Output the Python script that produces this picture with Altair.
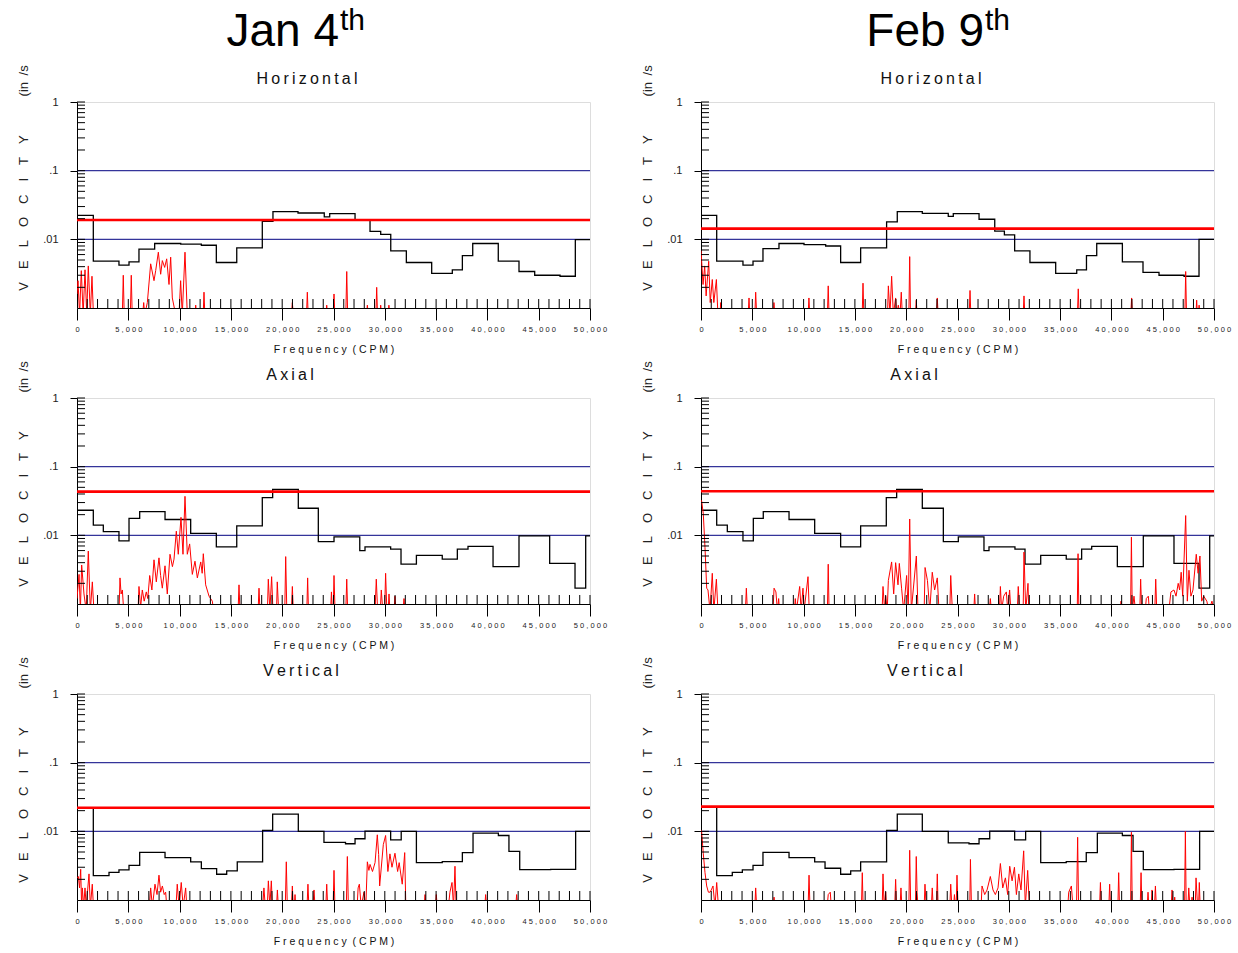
import altair as alt
import pandas as pd

FL = 0.0008  # spectrum floor (below the axis, clipped)

# ---------------- alarm-band envelopes (band start CPM, level in/s) ----------------
JAN_H_STEP_F = [0, 1590, 4090, 5070, 6040, 7570, 10110, 12120, 13580, 15570, 18060, 19100, 21540, 24100, 24630,
                27100, 28560, 29600, 30580, 32100, 34570, 36580, 37560, 38570, 41060, 43080, 44610, 47080, 48570]
JAN_H_STEP_V = [0.0224, 0.0048, 0.0042, 0.0047, 0.0072, 0.0087, 0.0085, 0.0082, 0.0046, 0.0075, 0.0183, 0.0253,
                0.0242, 0.0213, 0.0237, 0.0193, 0.0131, 0.0118, 0.0068, 0.0046, 0.0032, 0.0036, 0.0058, 0.0087,
                0.0048, 0.0034, 0.0030, 0.0029, 0.0099]
JAN_A_STEP_F = [0, 1590, 2565, 4090, 5070, 6110, 8580, 11080, 13580, 15570, 18060, 19070, 21570, 23520, 25050,
                27560, 28070, 30570, 31580, 33080, 35600, 37070, 38110, 40550, 43080, 46070, 48540, 49580]
JAN_A_STEP_V = [0.0232, 0.0141, 0.0113, 0.0083, 0.0177, 0.0221, 0.0170, 0.0107, 0.0068, 0.0137, 0.0354, 0.0468,
                0.0248, 0.0081, 0.0095, 0.0060, 0.0068, 0.0063, 0.0038, 0.0051, 0.0045, 0.0063, 0.0069, 0.0035,
                0.0098, 0.0039, 0.0017, 0.0098]
JAN_V_STEP_F = [0, 1590, 3120, 4090, 5070, 6110, 8580, 11080, 12120, 13610, 14590, 15620, 18090, 19070, 21570,
                24070, 26170, 27100, 28070, 30570, 31600, 33080, 35600, 37560, 38600, 41070, 42100, 43150, 46170, 48600]
JAN_V_STEP_V = [0.0216, 0.00226, 0.00253, 0.00275, 0.0032, 0.00495, 0.00414, 0.00359, 0.00287, 0.00237, 0.00265,
                0.00359, 0.0103, 0.0178, 0.0100, 0.0069, 0.0066, 0.0078, 0.0101, 0.0075, 0.0100, 0.0035, 0.00363,
                0.0049, 0.0094, 0.0087, 0.0051, 0.00276, 0.0028, 0.0100]
FEB_H_STEP_F = [0, 1530, 4090, 5070, 6040, 7600, 10040, 12150, 13610, 15560, 18090, 19130, 21570, 24100, 24590,
                27100, 28630, 29570, 30570, 32060, 34570, 36620, 37570, 38570, 41070, 43080, 44640, 47080, 48540]
FEB_H_STEP_V = [0.0224, 0.0048, 0.0042, 0.0048, 0.0073, 0.0087, 0.0084, 0.0080, 0.0046, 0.0075, 0.0180, 0.0253,
                0.0239, 0.0216, 0.0237, 0.0196, 0.0132, 0.0116, 0.0068, 0.0046, 0.0032, 0.0036, 0.0058, 0.0087,
                0.0047, 0.0033, 0.0030, 0.0029, 0.0100]
FEB_A_STEP_F = [0, 1530, 2565, 4090, 5100, 6070, 8580, 11080, 13610, 15560, 18060, 19070, 21570, 23620, 25080,
                27580, 28070, 30600, 31580, 33110, 35600, 37100, 38080, 40580, 43110, 46100, 48540, 49580]
FEB_A_STEP_V = [0.0232, 0.0141, 0.0113, 0.0083, 0.0177, 0.0221, 0.0170, 0.0107, 0.0068, 0.0137, 0.0354, 0.0468,
                0.0248, 0.0081, 0.0095, 0.0060, 0.0068, 0.0063, 0.0038, 0.0051, 0.0045, 0.0063, 0.0069, 0.0035,
                0.0098, 0.0039, 0.0017, 0.0098]
FEB_V_STEP_F = [0, 1530, 3050, 4030, 5070, 6040, 8580, 11080, 12090, 13610, 14590, 15560, 18090, 19130, 21570,
                24100, 26120, 27100, 28140, 30570, 31640, 33110, 35600, 37550, 38630, 41070, 42110, 43110, 46100, 48600]
FEB_V_STEP_V = [0.0223, 0.00226, 0.00253, 0.00275, 0.0032, 0.00495, 0.00414, 0.00359, 0.0029, 0.00237, 0.00265,
                0.00359, 0.0103, 0.0178, 0.0100, 0.0068, 0.0066, 0.0078, 0.0101, 0.0075, 0.0100, 0.0035, 0.00363,
                0.0049, 0.0094, 0.0087, 0.0051, 0.00276, 0.0028, 0.0100]

# ---------------- overall levels ----------------
JAN_H_OVERALL, JAN_A_OVERALL, JAN_V_OVERALL = 0.0191, 0.0433, 0.0221
FEB_H_OVERALL, FEB_A_OVERALL, FEB_V_OVERALL = 0.0143, 0.0438, 0.0229

# ---------------- spectra (CPM, in/s) ----------------
JAN_H_SPEC = [
    (0, 0.0016), (100, 0.0025), (250, FL), (420, 0.0035), (600, FL), (780, 0.0036), (950, FL), (1100, 0.0041),
    (1300, FL), (1460, 0.0029), (1600, FL), (4420, FL), (4510, 0.0030), (4600, FL), (5200, FL), (5290, 0.0030),
    (5380, FL), (6400, FL), (6500, 0.0012), (6600, FL), (6856, 0.0012), (7180, 0.0044), (7505, 0.0025),
    (7668, 0.0035), (7928, 0.0065), (8155, 0.0031), (8318, 0.0049), (8545, 0.0039), (8740, 0.0052),
    (8967, 0.0022), (9130, 0.0055), (9290, 0.0014), (9616, FL), (9941, FL), (10100, 0.0025), (10260, FL),
    (10526, 0.0065), (10750, FL), (11500, FL), (11570, 0.0011), (11650, FL), (12300, FL), (12378, 0.0017),
    (12460, FL), (20900, FL), (20990, 0.0012), (21080, FL), (22370, FL), (22450, 0.0017), (22530, FL),
    (24260, FL), (24340, 0.0011), (24420, FL), (24970, FL), (25050, 0.0016), (25130, FL), (26200, FL),
    (26290, 0.0034), (26380, FL), (28220, FL), (28300, 0.0011), (28380, FL), (29130, FL), (29210, 0.0020),
    (29290, FL), (29520, FL), (29600, 0.0011), (29680, FL), (30320, FL), (30400, 0.0011), (30480, FL)]
JAN_A_SPEC = [
    (0, 0.0012), (200, 0.0027), (330, FL), (455, 0.0037), (680, 0.0014), (900, FL), (1100, 0.0059), (1300, FL),
    (1495, 0.0021), (1650, FL), (4100, FL), (4190, 0.0024), (4300, 0.0014), (4420, 0.0016), (4550, FL),
    (5950, FL), (6040, 0.0018), (6200, 0.0009), (6365, 0.0016), (6550, 0.0011), (6755, 0.0015), (6900, 0.0012),
    (7085, 0.0026), (7300, 0.0016), (7505, 0.0044), (7730, 0.0021), (7990, 0.0047), (8150, 0.0026),
    (8315, 0.0017), (8577, 0.0036), (8800, 0.0014), (9065, 0.0053), (9300, 0.0035), (9455, 0.0045),
    (9680, 0.0115), (9870, 0.0053), (10136, 0.0183), (10330, 0.0053), (10526, 0.0370), (10750, 0.0053),
    (10980, 0.0075), (11240, 0.0027), (11500, 0.0042), (11730, 0.0024), (12060, 0.0041), (12200, 0.0028),
    (12310, 0.0054), (12540, 0.0019), (12870, 0.0013), (13190, 0.0011), (13300, FL), (15700, FL),
    (15790, 0.0019), (15880, FL), (17650, FL), (17740, 0.0017), (17830, FL), (18560, FL), (18645, 0.0023),
    (18800, FL), (18970, 0.0025), (19100, FL), (19450, FL), (19520, 0.0021), (19650, FL), (20250, FL),
    (20340, 0.0049), (20450, FL), (20900, FL), (20990, 0.0018), (21080, FL), (22400, FL), (22480, 0.0024),
    (22560, FL), (24720, FL), (24800, 0.0015), (24880, FL), (24970, FL), (25050, 0.0026), (25150, FL),
    (26200, FL), (26290, 0.0023), (26380, FL), (29050, FL), (29170, 0.0023), (29300, FL), (29560, FL),
    (29660, 0.0016), (29800, FL), (29980, FL), (30080, 0.0028), (30200, FL), (30330, FL), (30410, 0.0014),
    (30500, FL), (30900, FL), (30990, 0.0013), (31080, FL), (31780, FL), (31870, 0.0012), (31960, FL)]
JAN_V_SPEC = [
    (0, 0.0021), (130, 0.0022), (250, 0.0015), (360, 0.0028), (450, FL), (520, 0.0015), (650, FL),
    (780, 0.0015), (900, FL), (1170, 0.0024), (1300, FL), (1490, 0.0017), (1600, FL), (7050, FL),
    (7180, 0.0015), (7350, FL), (7600, 0.0017), (7800, 0.0012), (7990, 0.0023), (8150, 0.0013),
    (8320, 0.0016), (8500, 0.0012), (8640, 0.0013), (8750, FL), (9650, FL), (9770, 0.0017), (9950, FL),
    (10160, 0.0018), (10350, FL), (10590, 0.0015), (10700, FL), (18100, FL), (18220, 0.0015), (18350, FL),
    (18550, FL), (18650, 0.0019), (18800, FL), (18940, 0.0019), (19050, FL), (19450, FL), (19530, 0.0014),
    (19620, FL), (20300, FL), (20400, 0.0036), (20500, FL), (20900, FL), (20990, 0.0016), (21080, FL),
    (21180, FL), (21250, 0.0012), (21320, FL), (22420, FL), (22510, 0.0017), (22600, FL), (23000, FL),
    (23100, 0.0014), (23200, FL), (24250, FL), (24340, 0.0017), (24430, FL), (24960, FL), (25050, 0.0027),
    (25140, FL), (26250, FL), (26350, 0.0043), (26450, FL), (27300, FL), (27400, 0.0015), (27520, 0.0017),
    (27700, FL), (27970, 0.0013), (28150, FL), (28300, 0.0036), (28450, 0.0027), (28560, 0.0033),
    (28800, 0.0026), (29050, 0.0035), (29270, 0.0089), (29400, 0.0046), (29500, 0.0016), (29855, 0.0064),
    (30080, 0.0087), (30300, 0.0026), (30500, 0.0047), (30700, 0.0030), (30990, 0.0048), (31250, 0.0026),
    (31400, 0.0035), (31700, 0.0017), (31940, 0.0049), (32050, FL), (33830, FL), (33920, 0.0012), (34010, FL),
    (34930, FL), (35020, 0.0012), (35110, FL), (36200, FL), (36350, 0.0013), (36550, 0.0018), (36700, FL),
    (36840, 0.0031), (36950, FL), (39740, FL), (39830, 0.0012), (39920, FL), (42760, FL), (42850, 0.0012),
    (42940, FL)]
FEB_H_SPEC = [
    (0, 0.0069), (200, 0.0022), (360, 0.0041), (500, 0.0015), (750, 0.0048), (900, 0.0012), (1100, 0.0026),
    (1250, 0.0012), (1500, 0.0026), (1650, FL), (1850, FL), (1920, 0.0012), (2000, FL), (4600, FL),
    (4680, 0.0014), (4750, FL), (5250, FL), (5330, 0.0017), (5420, FL), (7040, FL), (7110, 0.0012), (7200, FL),
    (10440, FL), (10520, 0.0014), (10600, FL), (12320, FL), (12400, 0.0021), (12480, FL), (15710, FL),
    (15790, 0.0023), (15870, FL), (18180, FL), (18260, 0.0021), (18420, FL), (18580, 0.0029), (18750, FL),
    (18970, 0.0014), (19080, FL), (19230, 0.0011), (19400, FL), (19520, 0.0017), (19620, FL), (20260, FL),
    (20340, 0.0056), (20420, FL), (20900, FL), (20980, 0.0013), (21060, FL), (22950, FL), (23030, 0.0014),
    (23110, FL), (26140, FL), (26220, 0.0018), (26300, FL), (31400, FL), (31480, 0.0015), (31560, FL),
    (36690, FL), (36770, 0.0019), (36850, FL), (41890, FL), (41970, 0.0014), (42050, FL), (47160, FL),
    (47240, 0.0034), (47320, FL), (48240, FL), (48310, 0.0013), (48380, FL), (48480, FL), (48550, 0.0011),
    (48620, FL)]
FEB_A_SPEC = [
    (0, 0.032), (60, 0.032), (225, 0.0205), (390, 0.0066), (555, 0.0017), (680, 0.0016), (880, FL),
    (1100, 0.0028), (1250, FL), (1500, 0.0023), (1650, FL), (4330, FL), (4420, 0.0017), (4520, FL), (7020, FL),
    (7120, 0.0017), (7300, 0.0015), (7450, FL), (7570, 0.0012), (7650, FL), (9100, FL), (9190, 0.0012),
    (9300, FL), (9620, 0.0018), (9760, FL), (9940, 0.0017), (10050, FL), (10430, 0.0025), (10550, FL),
    (12320, FL), (12400, 0.0038), (12480, FL), (17650, FL), (17740, 0.0018), (17900, FL), (18000, 0.0013),
    (18150, FL), (18260, 0.0022), (18580, 0.0041), (18780, 0.0014), (18970, 0.0040), (19200, 0.0019),
    (19330, 0.0039), (19550, 0.0017), (19750, FL), (20040, 0.0026), (20200, FL), (20340, 0.0173), (20500, FL),
    (20990, 0.0050), (21150, FL), (21750, FL), (21840, 0.0034), (22070, 0.0022), (22300, FL), (22540, 0.0029),
    (22770, 0.0016), (23030, 0.0024), (23200, FL), (24250, FL), (24340, 0.0026), (24500, FL), (26590, FL),
    (26670, 0.0014), (26750, FL), (28100, FL), (28200, 0.0012), (28300, FL), (29090, FL), (29180, 0.0018),
    (29300, FL), (29500, 0.0013), (29760, 0.0015), (29900, FL), (30080, 0.0016), (30200, FL), (30830, FL),
    (30920, 0.0018), (31050, FL), (31400, FL), (31480, 0.0057), (31650, FL), (31870, 0.0020), (31950, FL),
    (36670, FL), (36750, 0.0054), (36830, FL), (40880, FL), (40940, 0.0011), (41000, FL), (41870, FL),
    (41950, 0.0094), (42030, FL), (42200, 0.0013), (42350, FL), (42770, FL), (42850, 0.0023), (42950, FL),
    (43300, FL), (43400, 0.0012), (43600, 0.0013), (43700, FL), (44230, FL), (44320, 0.0023), (44420, FL),
    (45600, FL), (45800, 0.0015), (46100, 0.0016), (46300, 0.0013), (46510, 0.0020), (46650, 0.0016),
    (46800, 0.0029), (46950, 0.0013), (47240, 0.0194), (47400, 0.0011), (47560, 0.0031), (47750, 0.0013),
    (47950, 0.0016), (48270, 0.0053), (48450, 0.0028), (48630, 0.0050), (48800, 0.0011), (49000, 0.0013),
    (49300, 0.0011), (49500, FL), (49800, 0.0011), (50000, FL)]
FEB_V_SPEC = [
    (0, 0.0105), (60, 0.0100), (225, 0.0047), (390, 0.0025), (555, 0.0016), (720, 0.0013), (880, 0.0013),
    (1000, 0.0014), (1170, 0.0016), (1360, FL), (1530, 0.0018), (1700, FL), (5250, FL), (5330, 0.0015),
    (5420, FL), (7050, FL), (7120, 0.0011), (7200, FL), (10440, FL), (10530, 0.0023), (10620, FL), (12300, FL),
    (12400, 0.0012), (12600, 0.0013), (12700, FL), (15640, FL), (15720, 0.0025), (15800, FL), (17660, FL),
    (17740, 0.0024), (17850, FL), (18000, 0.0013), (18080, FL), (18880, FL), (18970, 0.0020), (19060, FL),
    (19400, FL), (19490, 0.0015), (19580, FL), (20260, FL), (20340, 0.0053), (20440, FL), (20900, FL),
    (20980, 0.0043), (21060, 0.0013), (21150, FL), (21750, FL), (21830, 0.0017), (21950, FL), (22450, FL),
    (22540, 0.0015), (22630, FL), (22950, FL), (23030, 0.0024), (23110, FL), (24250, FL), (24340, 0.0017),
    (24450, FL), (24620, FL), (24700, 0.0012), (24800, FL), (24870, FL), (24950, 0.0023), (25050, FL),
    (26200, FL), (26260, 0.0039), (26360, FL), (27300, FL), (27390, 0.0016), (27650, 0.0012), (27880, 0.0014),
    (28200, 0.0022), (28460, 0.0014), (28690, 0.0012), (28950, 0.0015), (29180, 0.0034), (29410, 0.0015),
    (29670, 0.0021), (29890, 0.0012), (30090, 0.0031), (30320, 0.0019), (30550, 0.0030), (30740, 0.0012),
    (30970, 0.0024), (31190, 0.0014), (31450, 0.0052), (31610, FL), (31840, 0.0027), (32010, FL), (35750, FL),
    (35840, 0.0013), (36100, 0.0016), (36250, FL), (36600, FL), (36710, 0.0082), (36800, FL), (38850, FL),
    (38930, 0.0018), (39010, FL), (39750, FL), (39830, 0.0017), (39910, FL), (40630, FL), (40710, 0.0025),
    (40790, FL), (41870, FL), (41950, 0.0097), (42030, FL), (42810, FL), (42890, 0.0025), (42970, FL),
    (43490, FL), (43570, 0.0013), (43650, FL), (43880, FL), (43960, 0.0014), (44050, FL), (44200, FL),
    (44290, 0.0016), (44380, FL), (45830, FL), (45910, 0.0014), (46000, FL), (46100, FL), (46170, 0.0011),
    (46240, FL), (47130, FL), (47210, 0.0100), (47290, FL), (47460, FL), (47540, 0.0015), (47650, FL),
    (47800, FL), (47860, 0.0011), (47930, FL), (48170, FL), (48250, 0.0021), (48400, FL), (48500, FL),
    (48570, 0.0018), (48650, FL)]

# ---------------- ticks, reference lines, texts ----------------
X_MAJOR = [0, 5000, 10000, 15000, 20000, 25000, 30000, 35000, 40000, 45000, 50000]
X_MINOR = [1000 * k for k in range(1, 51)]
Y_MAJOR = [0.01, 0.1, 1]
Y_MINOR = [0.002, 0.003, 0.004, 0.005, 0.006, 0.007, 0.008, 0.009, 0.01,
           0.02, 0.03, 0.04, 0.05, 0.06, 0.07, 0.08, 0.09, 0.1,
           0.2, 0.3, 0.4, 0.5, 0.6, 0.7, 0.8, 0.9, 1]
REF_LINES = [0.1, 0.01]

THIN = "\u2009"
NB = "\u00a0"
TITLE_H = THIN.join("Horizontal")
TITLE_A = THIN.join("Axial")
TITLE_V = THIN.join("Vertical")
X_TITLE = " ".join("Frequency") + NB + NB + " ".join("(CPM)")
SP = "\u2003"
Y_TITLE = SP.join(list("VELOCITY")) + SP * 3 + "(in" + "\u2002" + "/s"
HEAD_JAN = ("Jan 4", "th")
HEAD_FEB = ("Feb 9", "th")

SANS = "Liberation Sans, Arial, sans-serif"
RED = "#ff0000"
BLUE = "#34349a"

W, H = 513, 206
XS = alt.Scale(domain=[0, 50000], nice=False, zero=False)
YS = alt.Scale(type="log", domain=[0.001, 1], nice=False)

XAX = alt.Axis(values=X_MAJOR, labelExpr="join(split(format(datum.value, ','), ''), ' ')",
               tickSize=12, labelFont=SANS, labelFontSize=7.5, labelPadding=5, labelOverlap=False,
               labelFlush=False, labelBound=False,
               labelColor="#222", title=X_TITLE, titleFont=SANS, titleFontSize=10.5, titleFontWeight="normal",
               titlePadding=12, titleColor="#111", grid=False, domainColor="black", tickColor="black")
YAX = alt.Axis(values=Y_MAJOR, labelExpr="datum.value >= 1 ? '1' : datum.value >= 0.1 ? '.1' : '.01'",
               tickSize=7, labelFont=SANS, labelFontSize=11, labelPadding=12, labelColor="#222",
               labelFlush=False, labelBound=False,
               title=None, grid=False, domainColor="black", tickColor="black")


def xe():
    return alt.X("f:Q", scale=XS, axis=XAX)


def ye():
    return alt.Y("v:Q", scale=YS, axis=YAX)


def text_layer(txt, x, y, **kw):
    return alt.Chart(pd.DataFrame({"t": [txt]})).mark_text(**kw).encode(
        text="t:N", x=alt.value(x), y=alt.value(y))


def panel(step_f, step_v, spec, overall, title, title_x, header=None, head_x=0):
    step_df = pd.DataFrame({"f": step_f + [50000], "v": step_v + [step_v[-1]]})
    spec_df = pd.DataFrame(spec, columns=["f", "v"])

    blue = alt.Chart(pd.DataFrame({"v": REF_LINES})).mark_rule(color=BLUE, strokeWidth=1.1).encode(y=ye())
    step = alt.Chart(step_df).mark_line(interpolate="step-after", color="black", strokeWidth=1.3).encode(
        x=xe(), y=ye())
    over = alt.Chart(pd.DataFrame({"v": [overall]})).mark_rule(color=RED, strokeWidth=2.6).encode(y=ye())
    spec_line = alt.Chart(spec_df).mark_line(color=RED, strokeWidth=1, clip=True).encode(x=xe(), y=ye())
    xt = alt.Chart(pd.DataFrame({"f": X_MINOR})).mark_rule(color="black", strokeWidth=1).encode(
        x=xe(), y=alt.value(H), y2=alt.value(H - 9))
    yt = alt.Chart(pd.DataFrame({"v": Y_MINOR})).mark_rule(color="black", strokeWidth=1).encode(
        y=ye(), x=alt.value(0), x2=alt.value(8))
    ttl = text_layer(title, title_x, -18, font=SANS, fontSize=16, align="center", baseline="alphabetic",
                     color="#111")
    ytl = text_layer(Y_TITLE, -53, 76, font=SANS, fontSize=13, align="center", baseline="middle",
                     angle=270, color="#222")
    layers = [blue, step, over, spec_line, xt, yt, ttl, ytl]
    if header is not None:
        layers.append(text_layer(header[0], head_x, -56, font=SANS, fontSize=46, align="right",
                                 baseline="alphabetic", color="black"))
        layers.append(text_layer(header[1], head_x + 1, -72, font=SANS, fontSize=30, align="left",
                                 baseline="alphabetic", color="black"))
    return alt.layer(*layers).properties(width=W, height=H)


panels = [
    panel(JAN_H_STEP_F, JAN_H_STEP_V, JAN_H_SPEC, JAN_H_OVERALL, TITLE_H, 230, HEAD_JAN, 262),
    panel(FEB_H_STEP_F, FEB_H_STEP_V, FEB_H_SPEC, FEB_H_OVERALL, TITLE_H, 230, HEAD_FEB, 283),
    panel(JAN_A_STEP_F, JAN_A_STEP_V, JAN_A_SPEC, JAN_A_OVERALL, TITLE_A, 213),
    panel(FEB_A_STEP_F, FEB_A_STEP_V, FEB_A_SPEC, FEB_A_OVERALL, TITLE_A, 213),
    panel(JAN_V_STEP_F, JAN_V_STEP_V, JAN_V_SPEC, JAN_V_OVERALL, TITLE_V, 224),
    panel(FEB_V_STEP_F, FEB_V_STEP_V, FEB_V_SPEC, FEB_V_OVERALL, TITLE_V, 224),
]

chart = alt.concat(*panels, columns=2, spacing={"row": 90, "column": 111}, bounds="flush").properties(
    padding={"left": 17, "top": 5, "right": 5, "bottom": 5}
).configure_view(stroke="#444", strokeWidth=1.4).configure(background="white")

chart.save("out.html", embed_options={"renderer": "svg", "actions": False})
